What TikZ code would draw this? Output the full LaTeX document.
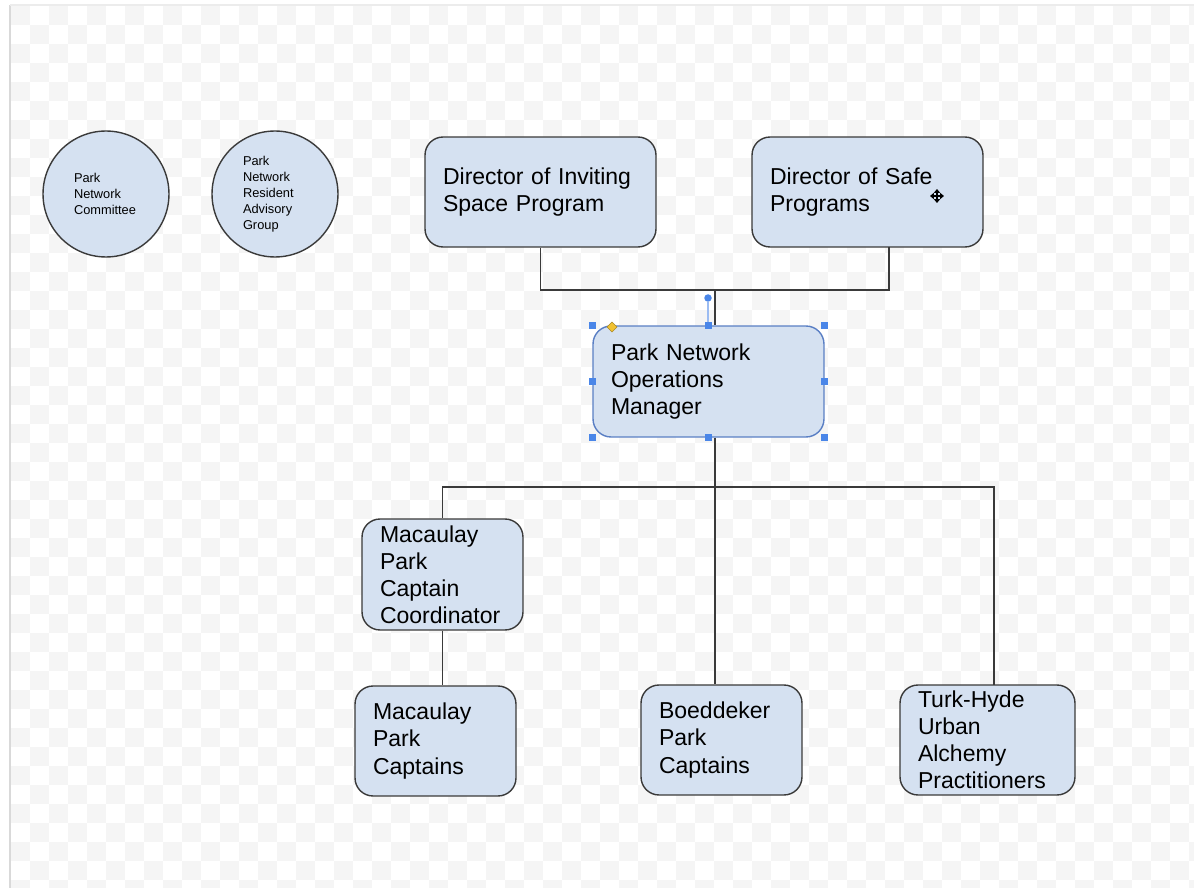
\documentclass[tikz,border=0pt]{standalone}
\usepackage{fontspec}
\setmainfont{Liberation Sans}
\usetikzlibrary{calc,shapes.geometric,arrows.meta}
\definecolor{boxfill}{HTML}{D5E1F1}
\definecolor{boxline}{HTML}{3A3A3A}
\definecolor{selblue}{HTML}{4A86E8}
\definecolor{selline}{HTML}{5A7FC4}
\definecolor{checker}{HTML}{F5F5F5}
\definecolor{handleyellow}{HTML}{F1C232}
\begin{document}
\begin{tikzpicture}[x=0.02cm,y=-0.02cm,
  orgbox/.style={draw=boxline, line width=0.8pt, fill=boxfill, rounded corners=0.36cm,
    inner xsep=0.36cm, inner ysep=0pt, align=left, minimum height=2.2cm,
    font=\fontsize{13.1}{15.4}\selectfont},
  wide/.style={text width=3.9cm},
  narrow/.style={text width=2.5cm},
  mid/.style={text width=2.78cm},
  circ/.style={circle, draw=boxline, line width=0.8pt, fill=boxfill, minimum size=2.52cm,
    inner sep=0pt, text width=1.28cm, align=left, font=\fontsize{7.3}{9.1}\selectfont},
  conn/.style={draw=boxline, line width=0.8pt},
  handle/.style={fill=selblue, inner sep=0pt, minimum size=0.14cm, draw=none}]
\useasboundingbox (0,0) rectangle (1194,888);
\fill[white] (0,0) rectangle (1194,888);
% faint checkerboard
\begin{scope}
\clip (11,6) rectangle (1194,888);
\foreach \i in {0,2,...,62}{
  \foreach \j in {0,2,...,46}{
    \fill[checker] (11+\i*19,6+\j*19) rectangle ++(19,19);
    \fill[checker] (11+\i*19+19,6+\j*19+19) rectangle ++(19,19);
  }
}
\end{scope}
\draw[gray!30, line width=1.2pt] (10,5) -- (10,888);
\draw[gray!15, line width=0.8pt] (10,5) -- (1194,5);

% circles
\node[circ] (c1) at (106,194) {Park\\Network\\Committee};
\node[circ] (c2) at (275,194) {Park\\Network\\Resident\\Advisory\\Group};

% boxes
\node[orgbox, wide] (dirA) at (540.5,192) {Director of Inviting\\Space Program};
\node[orgbox, wide] (dirB) at (867.5,192) {Director of Safe\\Programs};
\node[orgbox, wide, minimum height=2.22cm, draw=selline] (pnom) at (708.5,381.5) {Park Network\\Operations\\Manager};
\node[orgbox, narrow, minimum height=2.22cm] (mcc) at (442.5,574.5) {Macaulay\\Park\\Captain\\Coordinator};
\node[orgbox, narrow] (mcap) at (435.5,741) {Macaulay\\Park\\Captains};
\node[orgbox, narrow] (boed) at (721.5,740) {Boeddeker\\Park\\Captains};
\node[orgbox, mid] (turk) at (987.5,740) {Turk-Hyde\\Urban\\Alchemy\\Practitioners};

% connectors
\coordinate (j1) at (715,290);
\coordinate (j2) at (715,487);
\coordinate (bB) at (889,247);
\coordinate (tT) at (994,685);
\draw[conn] (dirA.south) |- (j1) -| (bB);
\draw[conn] (j1) -- (j1 |- pnom.north);
\draw[conn] (j1 |- pnom.south) -- (j2);
\draw[conn] (mcc.north) |- (j2) -| (tT);
\draw[conn] (j2) -- (j2 |- boed.north);
\draw[conn] (mcc.south) -- (mcc.south |- mcap.north);

% selection handles on pnom
\node[circle, handle, minimum size=0.15cm] (rot) at (708,298) {};
\draw[selblue!55, line width=1pt] (rot) -- (rot |- pnom.north);
\node[handle] (h1) at (pnom.north west) {};
\node[handle] (h2) at (pnom.north) {};
\node[handle] (h3) at (pnom.north east) {};
\node[handle] (h4) at (pnom.west) {};
\node[handle] (h5) at (pnom.east) {};
\node[handle] (h6) at (pnom.south west) {};
\node[handle] (h7) at (pnom.south) {};
\node[handle] (h8) at (pnom.south east) {};
\node[diamond, fill=handleyellow, draw=handleyellow!70!black, line width=0.3pt, inner sep=0pt, minimum size=0.2cm] (adj) at (612,327) {};

% move cursor
\coordinate (cur) at (937,196);
\draw[black, line width=0.9pt, {Triangle[length=2.2pt,width=3.5pt]}-{Triangle[length=2.2pt,width=3.5pt]}] ($(cur)+(-7,0)$) -- ($(cur)+(7,0)$);
\draw[black, line width=0.9pt, {Triangle[length=2.2pt,width=3.5pt]}-{Triangle[length=2.2pt,width=3.5pt]}] ($(cur)+(0,-7)$) -- ($(cur)+(0,7)$);
\end{tikzpicture}
\end{document}
